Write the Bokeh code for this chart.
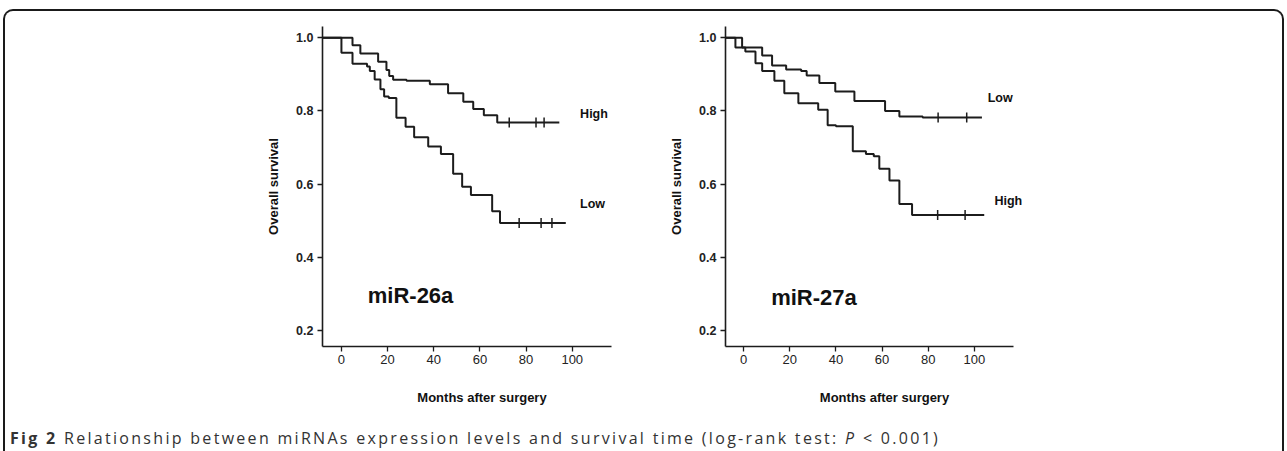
import numpy as np
from bokeh.plotting import figure
from bokeh.models import FixedTicker, Label, Div, Range1d
from bokeh.layouts import row, column
from bokeh.embed import file_html
from bokeh.resources import INLINE

# ---------------- data ----------------
x_ticks = [0, 20, 40, 60, 80, 100]
y_ticks = [0.2, 0.4, 0.6, 0.8, 1.0]

# miR-26a, High expression
a26_high_t = [-8.2, 4.8, 8.2, 15.9, 19.5, 20.7, 22.4, 28.2, 38.3, 46.2, 52.8, 57.1, 61.7, 67.5, 94.4]
a26_high_s = [1.0, 0.979, 0.957, 0.934, 0.912, 0.895, 0.885, 0.882, 0.873, 0.848, 0.825, 0.805, 0.788, 0.768, 0.768]
a26_high_cens = [72.7, 84.3, 87.8]

# miR-26a, Low expression
a26_low_t = [-8.2, 0.0, 4.8, 11.1, 12.3, 14.4, 16.9, 18.5, 20.5, 23.8, 27.8, 31.5, 37.6, 43.1,
             48.4, 52.3, 56.1, 65.3, 68.7, 97.2]
a26_low_s = [1.0, 0.959, 0.929, 0.921, 0.909, 0.886, 0.859, 0.839, 0.835, 0.781, 0.757, 0.728, 0.703, 0.682,
             0.628, 0.593, 0.570, 0.526, 0.494, 0.494]
a26_low_cens = [77.0, 86.5, 91.2]

# miR-27a, Low expression
a27_low_t = [-7.9, -0.7, 8.0, 12.3, 18.4, 24.9, 27.3, 32.8, 39.7, 48.0, 61.3, 67.5, 77.6, 103.3]
a27_low_s = [1.0, 0.973, 0.951, 0.924, 0.913, 0.909, 0.897, 0.876, 0.853, 0.827, 0.800, 0.785, 0.782, 0.782]
a27_low_cens = [84.3, 96.7]

# miR-27a, High expression
a27_high_t = [-7.9, -3.6, 0.7, 5.1, 8.0, 13.3, 17.6, 23.7, 32.3, 36.4, 40.0, 47.3, 53.0, 56.4,
              58.8, 63.2, 67.5, 73.0, 104.3]
a27_high_s = [1.0, 0.973, 0.962, 0.930, 0.909, 0.882, 0.848, 0.821, 0.803, 0.761, 0.758, 0.690, 0.682, 0.676,
              0.642, 0.610, 0.546, 0.516, 0.516]
a27_high_cens = [84.1, 96.0]

panel_names = ["miR-26a", "miR-27a"]
x_label = "Months after surgery"
y_label = "Overall survival"
caption_bold = "Fig 2"
caption_text = "Relationship between miRNAs expression levels and survival time (log-rank test: "
caption_end = " &lt; 0.001)"

# ---------------- styling ----------------
INK = "#1c1c1c"
FIG_H = 402
TOP = 15
FRAME_H = 320
TICK_FONT = "'Liberation Sans', Arial, sans-serif"


def make_panel(width, border_left, border_right, x_start, curves, labels, name, name_xy):
    p = figure(width=width, height=FIG_H,
               x_range=Range1d(x_start, 130), y_range=Range1d(0.1565, 1.0305),
               output_backend="svg", toolbar_location=None,
               min_border_left=border_left, min_border_right=border_right,
               min_border_top=TOP, min_border_bottom=FIG_H - TOP - FRAME_H)
    p.xgrid.visible = False
    p.ygrid.visible = False
    p.outline_line_color = None
    p.background_fill_color = None
    p.border_fill_color = None

    for ax in (p.xaxis[0], p.yaxis[0]):
        ax.axis_line_color = INK
        ax.axis_line_width = 1.6
        ax.major_tick_line_color = INK
        ax.major_tick_line_width = 1.3
        ax.major_tick_in = 0
        ax.major_tick_out = 5
        ax.minor_tick_line_color = None
        ax.major_label_text_color = "#222222"
        ax.major_label_text_font = TICK_FONT
        ax.axis_label_text_font = TICK_FONT
        ax.axis_label_text_font_style = "bold"
        ax.axis_label_text_font_size = "13px"
        ax.axis_label_text_color = "#111111"

    p.xaxis.bounds = (x_start, 117.1)
    p.xaxis.ticker = FixedTicker(ticks=x_ticks)
    p.yaxis.ticker = FixedTicker(ticks=y_ticks)
    p.yaxis.major_label_overrides = {t: f"{t:.1f}" for t in y_ticks}
    p.xaxis.major_label_text_font_size = "13px"
    p.yaxis.major_label_text_font_size = "12.5px"
    p.yaxis.major_label_text_font_style = "bold"
    p.xaxis.major_label_standoff = 3
    p.yaxis.major_label_standoff = 4
    p.xaxis.axis_label = x_label
    p.yaxis.axis_label = y_label
    p.xaxis.axis_label_standoff = 23
    p.yaxis.axis_label_standoff = 12

    for t, s, cens in curves:
        p.step(t, s, mode="after", line_color=INK, line_width=2)
        last = s[-1]
        p.scatter(cens, [last] * len(cens), marker="dash", angle=np.pi / 2,
                  size=10, line_color=INK, line_width=1.5)

    for txt, (lx, ly) in labels:
        p.add_layout(Label(x=lx, y=ly, text=txt, text_align="left", text_baseline="middle",
                           text_font=TICK_FONT, text_font_style="bold",
                           text_font_size="12.5px", text_color="#111111"))

    p.add_layout(Label(x=name_xy[0], y=name_xy[1], text=name, text_align="left",
                       text_baseline="middle", text_font=TICK_FONT, text_font_style="bold",
                       text_font_size="22px", text_color="#111111"))
    return p


left = make_panel(654, 317, 18, -8.2,
                  [(a26_high_t, a26_high_s, a26_high_cens), (a26_low_t, a26_low_s, a26_low_cens)],
                  [("High", (103.4, 0.791)), ("Low", (103.4, 0.545))],
                  panel_names[0], (11.4, 0.295))

right = make_panel(613, 66, 229, -7.9,
                   [(a27_low_t, a27_low_s, a27_low_cens), (a27_high_t, a27_high_s, a27_high_cens)],
                   [("Low", (105.8, 0.835)), ("High", (108.7, 0.553))],
                   panel_names[1], (11.9, 0.291))

caption = Div(
    text=(f'<div style="font-family:\'Open Sans\',sans-serif;font-size:16px;letter-spacing:2.3px;'
          f'color:#333;white-space:nowrap;margin-top:12px;margin-left:0px;line-height:17px">'
          f'<b>{caption_bold}</b> {caption_text}<i>P</i>{caption_end}</div>'),
    width=1267, height=31)

layout = column(row(left, right), caption,
                styles={"border-top": "2px solid #1a1a1a", "border-left": "2px solid #1a1a1a",
                        "border-right": "2px solid #1a1a1a", "border-radius": "10px 10px 0 0",
                        "margin-left": "3px", "margin-top": "9px"})

open("out.html", "w").write(file_html(layout, INLINE))
